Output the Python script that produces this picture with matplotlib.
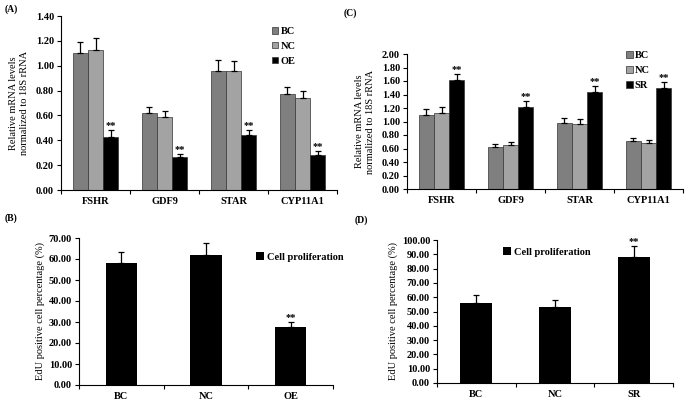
import numpy as np
import matplotlib
matplotlib.use('Agg')
import matplotlib.pyplot as plt

plt.rcParams['font.family'] = ['Liberation Serif', 'DejaVu Serif']
plt.rcParams['font.weight'] = 'bold'
plt.rcParams['font.size'] = 7.5

# 数据
genes = ['FSHR', 'GDF9', 'STAR', 'CYP11A1']

a_bc = [1.10, 0.62, 0.96, 0.77]
a_nc = [1.13, 0.59, 0.955, 0.74]
a_oe = [0.43, 0.265, 0.44, 0.28]
a_bc_err = [0.09, 0.05, 0.085, 0.06]
a_nc_err = [0.09, 0.045, 0.08, 0.06]
a_oe_err = [0.05, 0.025, 0.045, 0.03]

c_bc = [1.10, 0.62, 0.98, 0.71]
c_nc = [1.12, 0.65, 0.96, 0.68]
c_sr = [1.62, 1.21, 1.43, 1.49]
c_bc_err = [0.09, 0.05, 0.07, 0.05]
c_nc_err = [0.09, 0.045, 0.08, 0.05]
c_sr_err = [0.09, 0.09, 0.09, 0.10]

b_groups = ['BC', 'NC', 'OE']
b_vals = [58.2, 61.8, 27.4]
b_err = [5.3, 5.6, 2.8]

d_groups = ['BC', 'NC', 'SR']
d_vals = [56.0, 53.3, 88.0]
d_err = [5.5, 5.0, 7.5]

W, H = 685, 401
fig = plt.figure(figsize=(W / 100, H / 100), dpi=100)


def px_axes(left, right, top, bottom):
    return fig.add_axes([left / W, 1 - bottom / H, (right - left) / W, (bottom - top) / H])


def style_axis(ax, labels, ymax, ystep):
    n = len(labels)
    ax.set_xlim(-0.5, n - 0.5)
    ax.set_ylim(0, ymax)
    ax.set_yticks(np.arange(0, ymax + ystep / 2, ystep))
    ax.set_yticklabels(['%.2f' % v for v in np.arange(0, ymax + ystep / 2, ystep)])
    ax.set_xticks(np.arange(-0.5, n, 1.0))
    ax.set_xticklabels([])
    ax.set_xticks(np.arange(n), minor=True)
    ax.set_xticklabels(labels, minor=True)
    ax.tick_params(axis='x', which='major', direction='out', length=3, width=0.8)
    ax.tick_params(axis='x', which='minor', length=0, pad=5)
    ax.tick_params(axis='y', direction='out', length=3, width=0.8, pad=2)
    for s in ['top', 'right']:
        ax.spines[s].set_visible(False)
    for s in ['left', 'bottom']:
        ax.spines[s].set_linewidth(0.8)


def grouped(ax, series, errs, names, colors, star_idx):
    x = np.arange(4)
    w = 0.22
    for i, (vals, err, nm, col) in enumerate(zip(series, errs, names, colors)):
        pos = x + (i - 1) * w
        ax.bar(pos, vals, w, color=col, edgecolor='#333333', linewidth=0.5, label=nm,
               yerr=[np.zeros(4), err], error_kw=dict(ecolor='black', elinewidth=0.9, capsize=2, capthick=0.9))
        if i == star_idx:
            for p, v, e in zip(pos, vals, err):
                ax.text(p, v + e, '**', ha='center', va='bottom', fontsize=7.5)


# (A)
axA = px_axes(61, 337, 16, 190)
grouped(axA, [a_bc, a_nc, a_oe], [a_bc_err, a_nc_err, a_oe_err], ['BC', 'NC', 'OE'],
        ['#7f7f7f', '#a3a3a3', '#000000'], 2)
style_axis(axA, genes, 1.40, 0.20)
axA.set_ylabel('Relative mRNA levels\nnormalized to 18S rRNA', labelpad=5)
axA.legend(loc='upper left', bbox_to_anchor=(0.75, 0.96), frameon=False, handlelength=0.6,
           handleheight=0.6, handletextpad=0.2, labelspacing=0.55, borderaxespad=0)
fig.text(5 / W, 1 - 9 / H, '(A)', fontsize=7, va='center')

# (C)
axC = px_axes(407, 683, 54, 189)
grouped(axC, [c_bc, c_nc, c_sr], [c_bc_err, c_nc_err, c_sr_err], ['BC', 'NC', 'SR'],
        ['#7f7f7f', '#a3a3a3', '#000000'], 2)
style_axis(axC, genes, 2.00, 0.20)
axC.set_ylabel('Relative mRNA levels\nnormalized to 18S rRNA', labelpad=5)
axC.legend(loc='upper left', bbox_to_anchor=(0.78, 1.05), frameon=False, handlelength=0.6,
           handleheight=0.6, handletextpad=0.2, labelspacing=0.55, borderaxespad=0)
fig.text(344 / W, 1 - 13 / H, '(C)', fontsize=7, va='center')


def single(ax, groups, vals, err, star_idx, w):
    x = np.arange(len(groups))
    ax.bar(x, vals, w, color='black', label='Cell proliferation',
           yerr=[np.zeros(len(vals)), err], error_kw=dict(ecolor='black', elinewidth=0.9, capsize=2, capthick=0.9))
    ax.text(x[star_idx], vals[star_idx] + err[star_idx], '**', ha='center', va='bottom', fontsize=7.5)


# (B)
axB = px_axes(79, 333, 238, 385)
single(axB, b_groups, b_vals, b_err, 2, 0.37)
style_axis(axB, b_groups, 70, 10)
axB.set_ylabel('EdU positive cell percentage (%)', labelpad=3)
axB.legend(loc='upper left', bbox_to_anchor=(0.68, 0.93), frameon=False, handlelength=0.8,
           handleheight=0.8, handletextpad=0.3, borderaxespad=0)
fig.text(5 / W, 1 - 218 / H, '(B)', fontsize=7, va='center')

# (D)
axD = px_axes(437, 673, 240, 383)
single(axD, d_groups, d_vals, d_err, 2, 0.41)
style_axis(axD, d_groups, 100, 10)
axD.set_ylabel('EdU positive cell percentage (%)', labelpad=3)
axD.legend(loc='upper left', bbox_to_anchor=(0.26, 0.98), frameon=False, handlelength=0.8,
           handleheight=0.8, handletextpad=0.3, borderaxespad=0)
fig.text(355 / W, 1 - 220 / H, '(D)', fontsize=7, va='center')

fig.savefig('out.png', dpi=100)
